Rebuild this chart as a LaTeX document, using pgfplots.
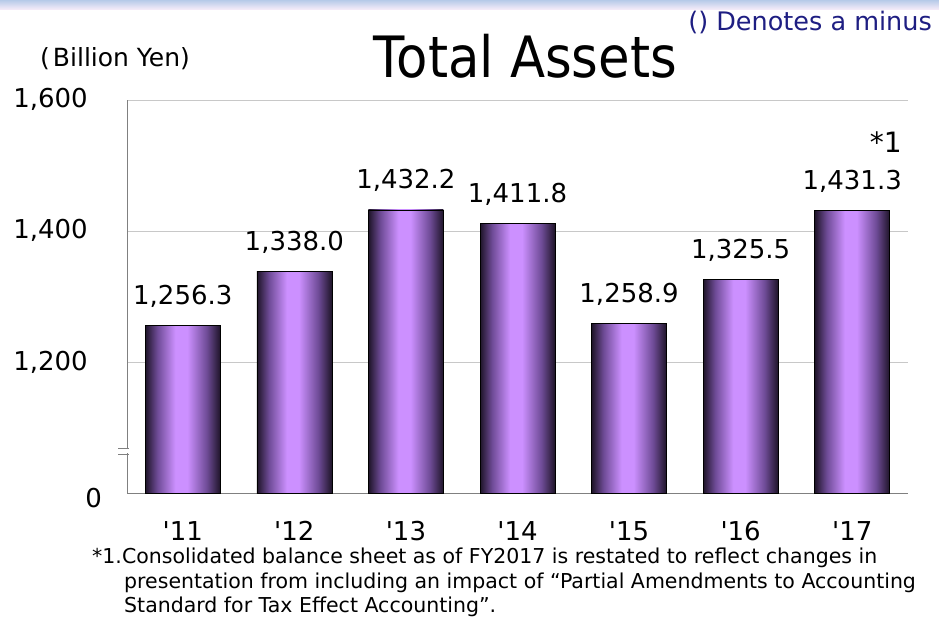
\documentclass[border=0pt]{standalone}
\usepackage{fontspec}
\setmainfont{DejaVu Sans}
\newfontfamily\titlefont[FakeStretch=0.9]{DejaVu Sans}
\newfontfamily\notefont{DejaVu Sans}
\usepackage{pgfplots}
\pgfplotsset{compat=1.18}
\usepackage{pgfplotstable}

\definecolor{barDark}{RGB}{30,20,40}
\definecolor{barMid}{RGB}{110,75,150}
\definecolor{barLight}{RGB}{204,144,255}
\definecolor{gridgray}{RGB}{200,200,200}
\definecolor{axisgray}{RGB}{128,128,128}
\definecolor{noteblue}{RGB}{30,30,130}

\pgfdeclarehorizontalshading{barshade}{100bp}{color(0bp)=(barDark); color(25bp)=(barDark);
  color(33bp)=(barMid); color(45bp)=(barLight); color(53bp)=(barLight);
  color(66bp)=(barMid); color(75bp)=(barDark); color(100bp)=(barDark)}

% total assets, billion yen (axis is broken between 0 and 1,000)
\pgfplotstableread{
x assets
0 1256.3
1 1338.0
2 1432.2
3 1411.8
4 1258.9
5 1325.5
6 1431.3
}\assetdata

\begin{document}
\begin{tikzpicture}
\useasboundingbox (0,0) rectangle (939pt,624pt);
\shade[top color={rgb,255:red,182;green,202;blue,232}, bottom color={rgb,255:red,250;green,238;blue,250}]
  (0,614pt) rectangle (939pt,624pt);

\begin{axis}[
    at={(127pt,131pt)}, anchor=south west,
    scale only axis, width=781pt, height=393pt,
    xmin=-0.5, xmax=6.5, ymin=0, ymax=600,
    axis x line=bottom, axis y line=left,
    axis line style={-, draw=axisgray, line width=0.8pt},
    major tick length=0pt,
    ytick={0,200,400,600},
    yticklabels={{\raisebox{-6pt}{0}\hspace*{-14pt}}, {1,200}, {1,400}, {1,600}},
    xtick={0,...,6},
    xticklabels={\textquotesingle 11, \textquotesingle 12, \textquotesingle 13, \textquotesingle 14,
                 \textquotesingle 15, \textquotesingle 16, \textquotesingle 17},
    ymajorgrids=true,
    grid style={draw=gridgray, line width=0.6pt},
    ticklabel style={font=\fontsize{26}{30}\selectfont, inner sep=0pt},
    yticklabel style={anchor=base east, xshift=-39pt, yshift=-8pt},
    xticklabel style={anchor=base, yshift=-47pt},
    ybar, bar width=75pt,
    nodes near coords,
    nodes near coords style={font=\fontsize{26}{30}\selectfont, anchor=base, yshift=21pt, inner sep=0pt,
      /pgf/number format/.cd, fixed, fixed zerofill, precision=1, 1000 sep={,}, assume math mode=true},
]
% one plot per bar so that each bar gets its own shading
\pgfplotsinvokeforeach{0,...,6}{
  \addplot[draw=black, line width=0.7pt, shade, shading=barshade, bar shift=0pt, point meta=explicit]
    table[x=x, y expr=\thisrow{assets}-1000, meta=assets,
          restrict expr to domain={\coordindex}{#1:#1}] {\assetdata};
}
\end{axis}

% axis break mark
\fill[white] (122pt,170.5pt) rectangle (132pt,175.5pt);
\draw[axisgray, line width=0.8pt] (118pt,176pt) -- (129pt,176pt) (118pt,170pt) -- (129pt,170pt);

\node[anchor=base, inner sep=0pt, font=\titlefont\fontsize{57}{60}\selectfont] at (525.5pt,546pt) {Total Assets};
\node[anchor=base west, inner sep=0pt, font=\fontsize{25}{28}\selectfont] at (40pt,557pt) {(\hspace{3pt}Billion Yen)};
\node[anchor=base east, inner sep=0pt, text=noteblue, font=\fontsize{25.5}{28}\selectfont] at (932pt,593pt) {() Denotes a minus};
\node[anchor=base east, inner sep=0pt, font=\fontsize{28}{32}\selectfont] at (902pt,471pt) {*1};

\node[anchor=base west, inner sep=0pt, font=\notefont\fontsize{20.5}{24}\selectfont] at (92pt,61pt)
  {*1.Consolidated balance sheet as of FY2017 is restated to reflect changes in};
\node[anchor=base west, inner sep=0pt, font=\notefont\fontsize{20.5}{24}\selectfont] at (124pt,36pt)
  {presentation from including an impact of “Partial Amendments to Accounting};
\node[anchor=base west, inner sep=0pt, font=\notefont\fontsize{20.5}{24}\selectfont] at (124pt,12pt)
  {Standard for Tax Effect Accounting”.};
\end{tikzpicture}
\end{document}
